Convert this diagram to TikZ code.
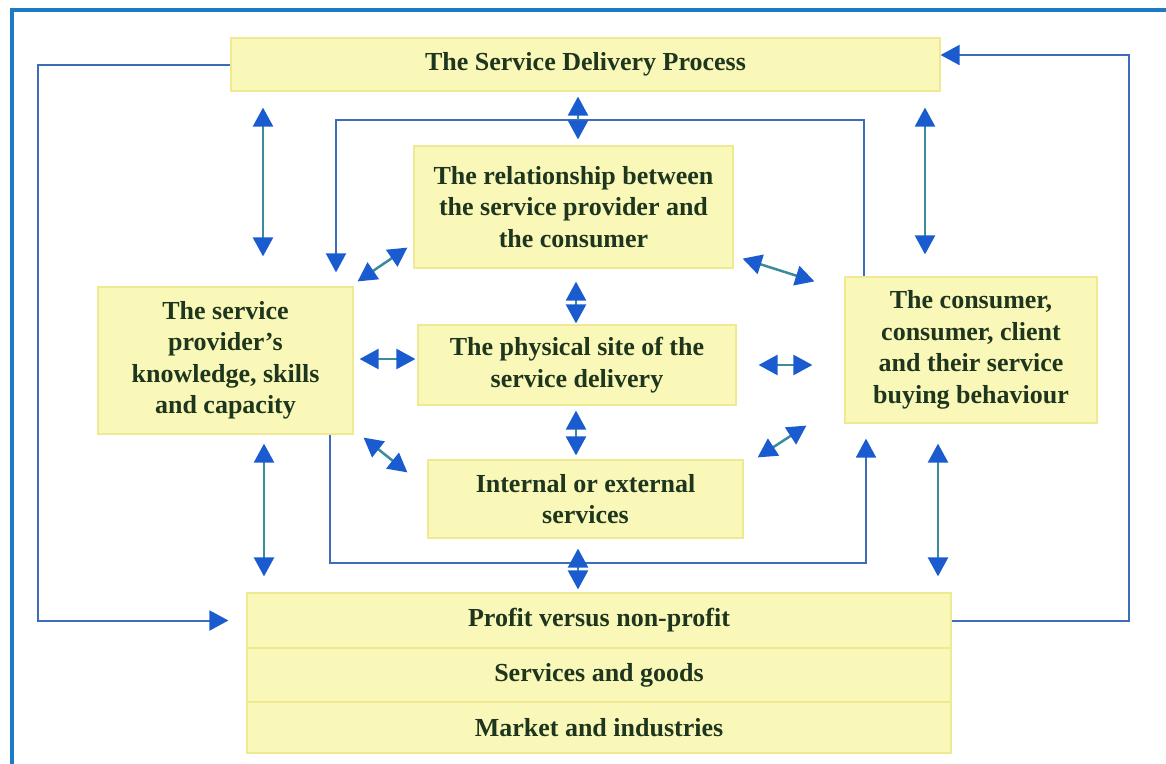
\documentclass[tikz,border=0pt]{standalone}
\usepackage{fontspec}
\setmainfont{Liberation Serif}
\usetikzlibrary{arrows.meta}

\definecolor{boxfill}{HTML}{FAF8B8}
\definecolor{boxline}{HTML}{EFE991}
\definecolor{headblue}{HTML}{1A5CD0}
\definecolor{loopblue}{HTML}{3C6DB8}
\definecolor{shaftteal}{HTML}{3A8C9C}
\definecolor{frameblue}{HTML}{1F7AC6}
\definecolor{txtgreen}{HTML}{1E361E}

\tikzset{
  box/.style={draw=boxline, line width=1.2pt, fill=boxfill, text=txtgreen, align=center,
    inner sep=0pt, font=\bfseries\fontsize{26}{31.5}\selectfont},
  bighead/.tip={Triangle[length=19pt,width=20pt,color=headblue,fill=headblue]},
  link/.style={loopblue, line width=2pt, -bighead},
  both/.style={shaftteal, line width=2.5pt, bighead-bighead},
}

\begin{document}
\begin{tikzpicture}[x=1pt,y=-1pt]
	\useasboundingbox (0,0) rectangle (1166,763);

	% Frame
	\begin{scope}
		\clip (0,0) rectangle (1166,763);
		\draw[frameblue, line width=4pt] (12,10) rectangle (1190,790);
	\end{scope}

	% Boxes
	\node[box, minimum width=709pt, minimum height=53pt] (sdp) at (585.5,64.5) {The Service Delivery Process};
	\node[box, minimum width=319pt, minimum height=122pt] (rel) at (573.5,207) {The relationship between\\the service provider and\\the consumer};
	\node[box, minimum width=318pt, minimum height=80pt] (phys) at (577,365) {The physical site of the\\service delivery};
	\node[box, minimum width=315pt, minimum height=78pt] (intl) at (585.5,499) {Internal or external\\services};
	\node[box, minimum width=255pt, minimum height=147pt] (prov) at (225.5,360.5) {The service\\provider's\\knowledge, skills\\and capacity};
	\node[box, minimum width=252pt, minimum height=146pt] (cons) at (971,350) {The consumer,\\consumer, client\\and their service\\buying behaviour};

	% Bottom stack
	\node[box, minimum width=704pt, minimum height=55pt] (profit) at (599,620.5) {Profit versus non-profit};
	\node[box, minimum width=704pt, minimum height=54pt] (goods) at (599,675) {Services and goods};
	\node[box, minimum width=704pt, minimum height=51pt] (market) at (599,727.5) {Market and industries};

	% Outer loops
	\draw[link, shorten >=18pt] (sdp.west) -- (sdp.west -| 38,0) |- (profit.west);
	\draw[link] (profit.east) -- (profit.east -| 1129,0) |- ([yshift=9.5pt]sdp.east);

	% Inner loops
	\draw[link, shorten >=14pt] ([xshift=20pt]cons.north west) |- (336,120) -- (prov.north -| 336,0);
	\draw[link, shorten >=15pt] (prov.south -| 330,0) |- (866,563) -- (cons.south -| 866,0);

	% Vertical links
	\draw[both, shorten <=16pt, shorten >=30pt] (sdp.south -| 263,0) -- (prov.north -| 263,0);
	\draw[both, shorten <=16pt, shorten >=22pt] (sdp.south -| 925,0) -- (cons.north -| 925,0);
	\draw[both, shorten <=5pt, shorten >=6pt] (sdp.south -| 578,0) -- (rel.north -| 578,0);
	\draw[both, shorten <=13pt, shorten >=1pt] (rel.south -| 576,0) -- (phys.north -| 576,0);
	\draw[both, shorten <=5pt, shorten >=4pt] (phys.south -| 576,0) -- (intl.north -| 576,0);
	\draw[both, shorten <=10pt, shorten >=3pt] (intl.south -| 578,0) -- (profit.north -| 578,0);
	\draw[both, shorten <=9pt, shorten >=16pt] (prov.south -| 264,0) -- (profit.north -| 264,0);
	\draw[both, shorten <=20pt, shorten >=16pt] (cons.south -| 938,0) -- (profit.north -| 938,0);

	% Side links
	\draw[both] ([shift={(4,-5)}]prov.north east) -- ([shift={(-6,-21)}]rel.south west);
	\draw[both] ([shift={(9,-10)}]rel.south east) -- ([shift={(-30,5)}]cons.north west);
	\draw[both] ([shift={(6,-1.5)}]prov.east) -- ([shift={(-2,-6)}]phys.west);
	\draw[both] ([shift={(22,0)}]phys.east) -- ([shift={(-32,15)}]cons.west);
	\draw[both] ([shift={(10,3)}]prov.south east) -- ([shift={(-20,13)}]intl.north west);
	\draw[both] ([shift={(14,-2)}]intl.north east) -- ([shift={(-38,2)}]cons.south west);
\end{tikzpicture}
\end{document}
